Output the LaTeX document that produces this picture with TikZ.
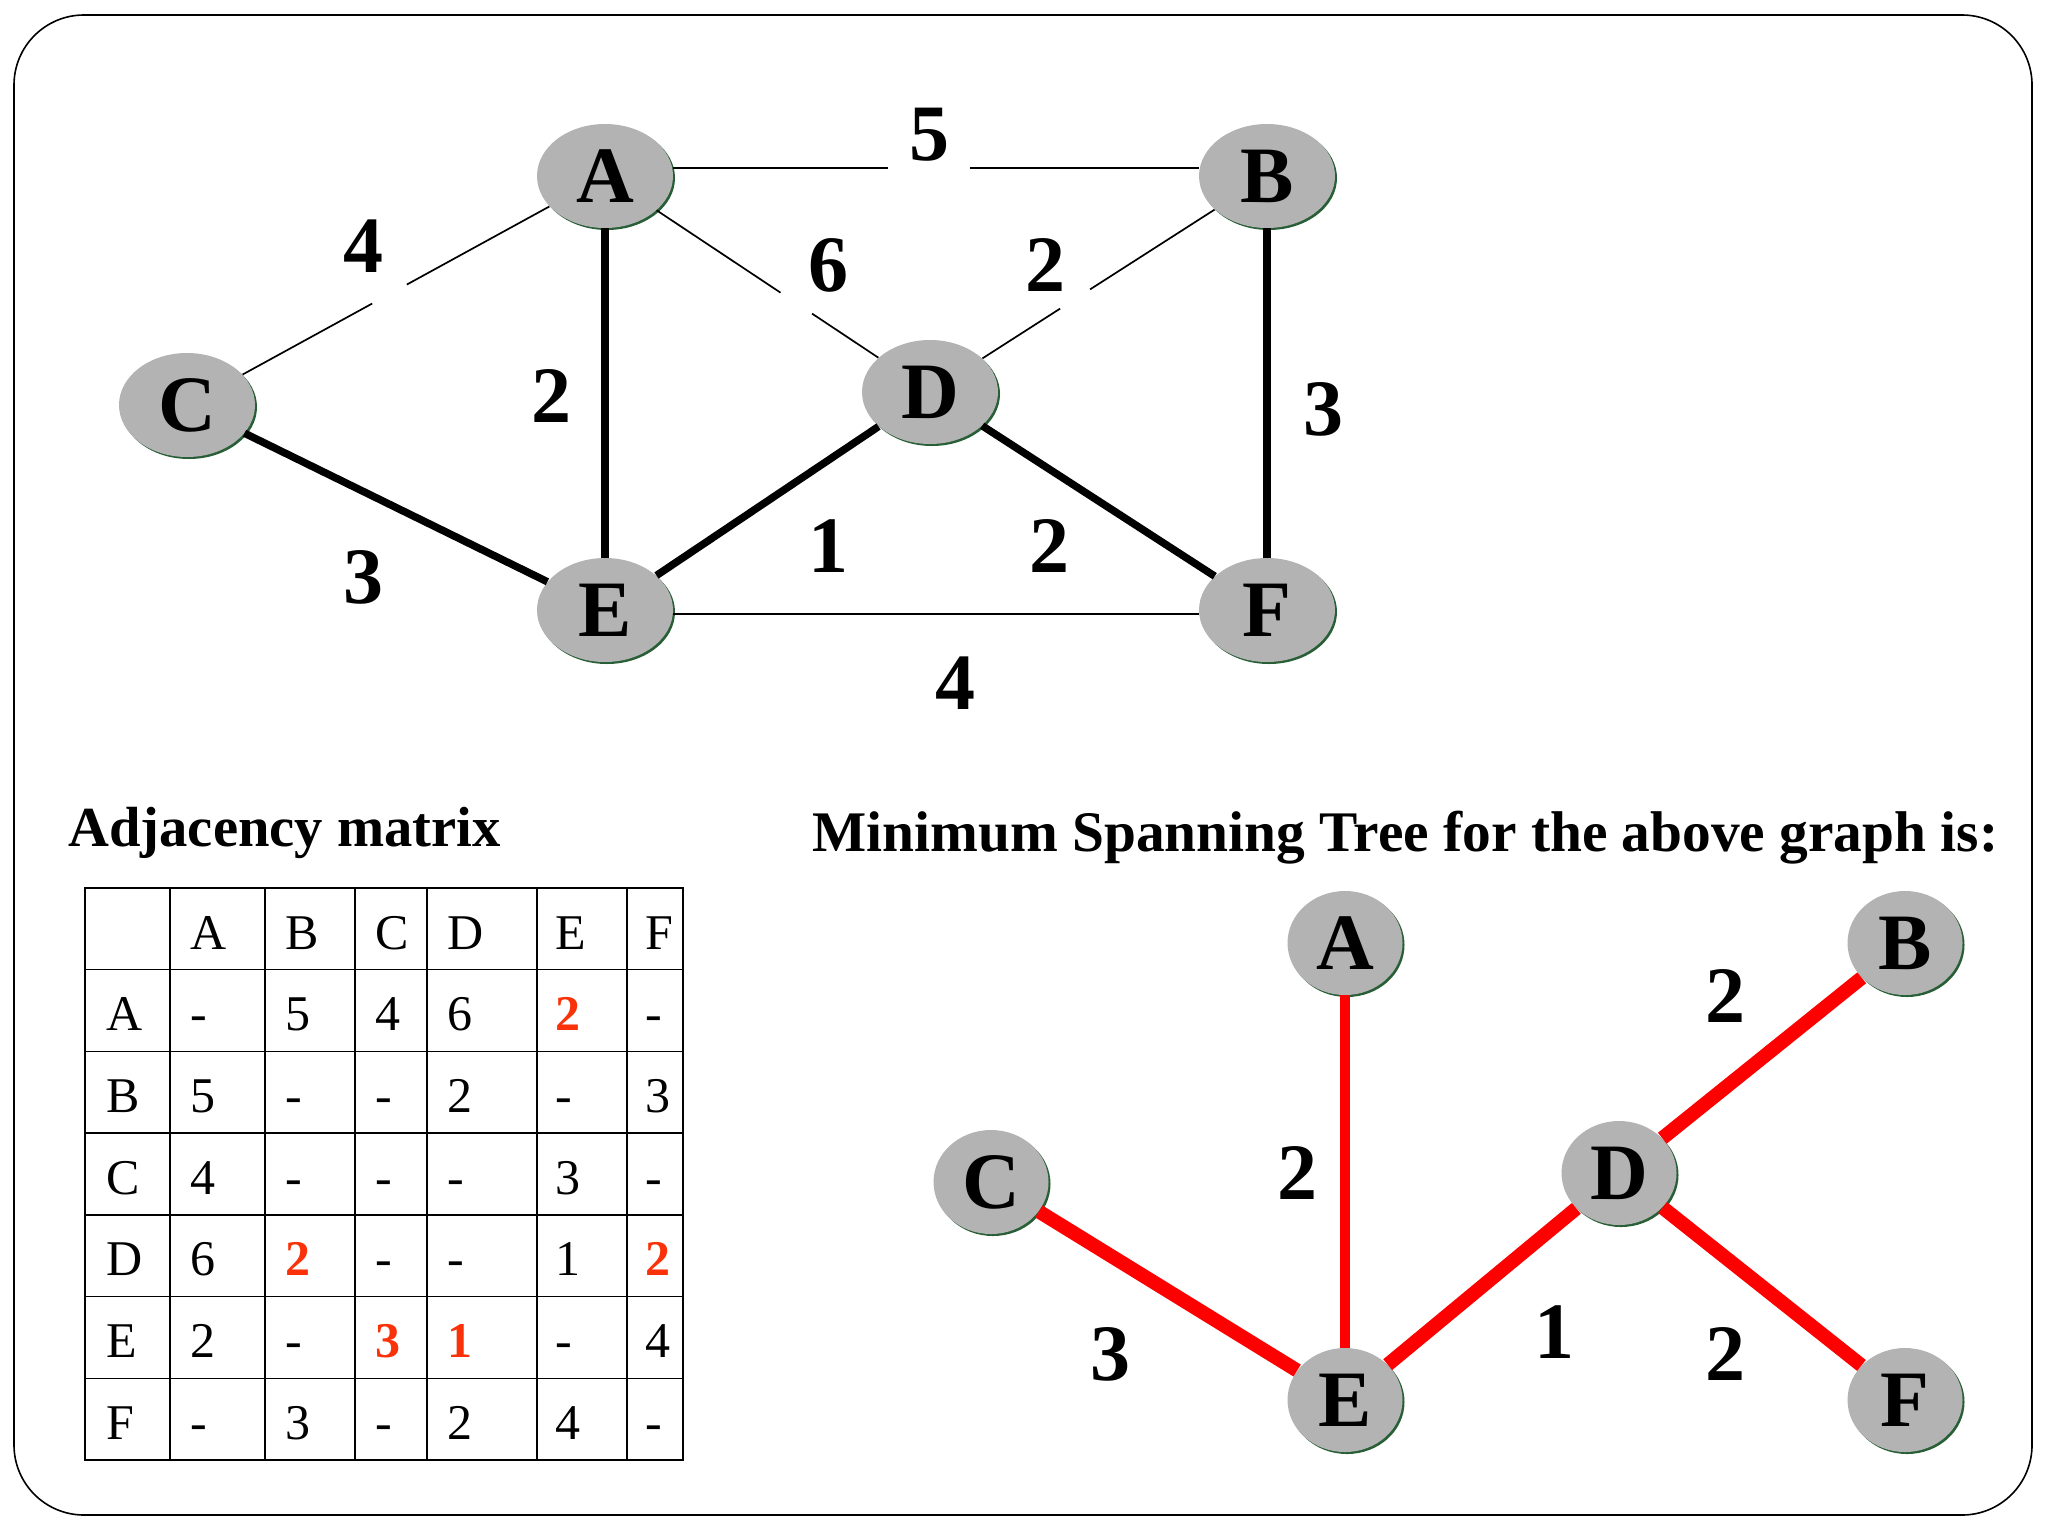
\documentclass[tikz,border=0pt]{standalone}
\usepackage{fontspec}
\setmainfont{Liberation Serif}
\usetikzlibrary{shapes.geometric,shadows,calc}
\definecolor{nodegray}{RGB}{179,179,179}
\definecolor{rimgreen}{RGB}{40,95,55}
\definecolor{mstred}{RGB}{255,0,0}
\definecolor{tabred}{RGB}{250,50,10}
\newcommand{\rv}[1]{\textcolor{tabred}{\bfseries #1}}
\begin{document}
\begin{tikzpicture}[x=0.5pt,y=-0.5pt,
  vtx/.style={ellipse, fill=nodegray, minimum width=68pt, minimum height=52pt, inner sep=0pt,
    font=\fontsize{40}{40}\selectfont\bfseries,
    drop shadow={shadow xshift=1pt, shadow yshift=-1pt, fill=rimgreen, opacity=1}},
  mvtx/.style={vtx, minimum width=57.5pt},
  wlabel/.style={font=\fontsize{40}{40}\selectfont\bfseries, inner sep=0pt},
  thinedge/.style={line width=0.85pt},
  thickedge/.style={line width=3.75pt},
  redthin/.style={draw=mstred, line width=5.2pt},
  redthick/.style={draw=mstred, line width=7pt},
  tabline/.style={line width=0.7pt},
  cell/.style={anchor=base west, inner sep=0pt, font=\fontsize{25}{25}\selectfont},
  ttl/.style={anchor=base west, inner sep=0pt, font=\fontsize{28.3}{28.3}\selectfont\bfseries}
]
\useasboundingbox (0,0) rectangle (2048,1536);
\draw[line width=0.8pt, rounded corners=35pt] (14,15) rectangle (2032,1515);

% top graph
\node[vtx] (A) at (605,176) {A};
\node[vtx] (B) at (1267,176) {B};
\node[vtx] (C) at (187,405) {C};
\node[vtx] (D) at (930,392) {D};
\node[vtx] (E) at (605,610) {E};
\node[vtx] (F) at (1267,610) {F};

\coordinate (ab1) at (888,168);
\coordinate (ab2) at (970,168);
\draw[thinedge] ([yshift=4pt]A.east) -- (ab1);
\draw[thinedge] (ab2) -- ([yshift=4pt]B.west);
\draw[thinedge] (C) -- ($(C)!0.443!(A)$);
\draw[thinedge] ($(C)!0.526!(A)$) -- (A);
\draw[thinedge] (A) -- ($(A)!0.54!(D)$);
\draw[thinedge] ($(A)!0.637!(D)$) -- (D);
\draw[thinedge] (B) -- ($(B)!0.525!(D)$);
\draw[thinedge] ($(B)!0.614!(D)$) -- (D);
\draw[thinedge] ([yshift=-2pt]E.east) -- ([yshift=-2pt]F.west);
\draw[thickedge] (A) -- (E);
\draw[thickedge] (C) -- (E);
\draw[thickedge] (D) -- (E);
\draw[thickedge] (D) -- (F);
\draw[thickedge] (B) -- (F);

\node[wlabel] (lab) at (929,135) {5};
\node[wlabel] (lac) at (363,246) {4};
\node[wlabel] (lad) at (828,265) {6};
\node[wlabel] (lbd) at (1045,265) {2};
\node[wlabel] (lae) at (551,396) {2};
\node[wlabel] (lbf) at (1323,409) {3};
\node[wlabel] (lce) at (363,577) {3};
\node[wlabel] (lde) at (828,546) {1};
\node[wlabel] (ldf) at (1049,546) {2};
\node[wlabel] (lef) at (955,683) {4};

% titles
\node[ttl] (tadj) at (68,846) {Adjacency matrix};
\node[ttl, font=\fontsize{28.7}{28.7}\selectfont\bfseries] (tmst) at (812,851) {Minimum Spanning Tree for the above graph is:};

% table
\draw[line width=1.4pt] (85,888) rectangle (683,1460);
\foreach \x in {170,265,355,427,537,627} \draw[tabline] (\x,888) -- (\x,1460);
\foreach \i in {1,...,6} \draw[tabline] (85,{888+\i*81.7}) -- (683,{888+\i*81.7});
\def\colxs{{106,190,285,375,447,555,645}}
\foreach \cell [count=\ci from 1] in {A,B,C,D,E,F}{
  \pgfmathsetmacro\cx{\colxs[\ci]}
  \node[cell] (h\ci) at (\cx,949) {\cell};
}
\foreach \row [count=\ri from 1] in {
  {A,-,5,4,6,\rv{2},-},
  {B,5,-,-,2,-,3},
  {C,4,-,-,-,3,-},
  {D,6,\rv{2},-,-,1,\rv{2}},
  {E,2,-,\rv{3},\rv{1},-,4},
  {F,-,3,-,2,4,-}}{
  \foreach \cell [count=\ci from 0] in \row {
    \pgfmathsetmacro\cx{\colxs[\ci]}
    \node[cell] (t\ri-\ci) at (\cx,{949+\ri*81.7}) {\cell};
  }
}

% MST
\node[mvtx] (mA) at (1345,943) {A};
\node[mvtx] (mB) at (1905,943) {B};
\node[mvtx] (mC) at (991,1182) {C};
\node[mvtx] (mD) at (1619,1173) {D};
\node[mvtx] (mE) at (1345,1400) {E};
\node[mvtx] (mF) at (1905,1400) {F};
\draw[redthin] (mA) -- (mE);
\draw[redthick] (mC) -- (mE);
\draw[redthick] (mD) -- (mE);
\draw[redthick] (mD) -- (mB);
\draw[redthick] (mD) -- (mF);
\node[wlabel] (mlae) at (1297,1173) {2};
\node[wlabel] (mlbd) at (1725,996) {2};
\node[wlabel] (mlce) at (1110,1354) {3};
\node[wlabel] (mlde) at (1554,1332) {1};
\node[wlabel] (mldf) at (1725,1354) {2};
\end{tikzpicture}
\end{document}
